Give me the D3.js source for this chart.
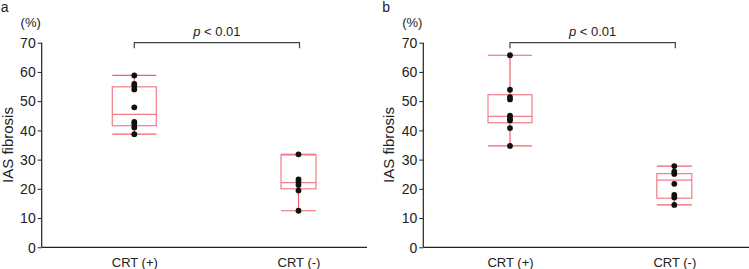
<!DOCTYPE html>
<html><head><meta charset="utf-8">
<script src="https://cdn.jsdelivr.net/npm/d3@7"></script>
<style>body{margin:0;background:#fff}svg{display:block;font-family:"Liberation Sans",Arial,sans-serif}</style>
</head><body><svg id="c" width="749" height="269"></svg>
<script>
// ---- data ----
const categories = ["CRT (+)", "CRT (-)"];
const yTicks = [0, 10, 20, 30, 40, 50, 60, 70];
const panelLabels = ["a", "b"];
const pText = "< 0.01";
// panel a points
const aPos = [58.8, 55.9, 55.2, 54.0, 47.9, 42.9, 42.2, 41.0, 38.7];
const aNeg = [31.8, 23.2, 22.3, 21.3, 19.4, 12.5];
// panel b points
const bPos = [65.7, 53.9, 51.4, 50.6, 45.0, 44.1, 43.4, 40.8, 34.7];
const bNeg = [27.8, 25.9, 25.1, 21.7, 17.9, 17.0, 14.5];
// box stats [min, q1, median, q3, max]
const aPosBox = [38.7, 41.6, 45.5, 54.9, 58.8];
const aNegBox = [12.5, 20.0, 22.1, 31.6, 31.8];
const bPosBox = [34.7, 42.6, 44.8, 52.2, 65.7];
const bNegBox = [14.5, 16.8, 23.0, 25.2, 27.8];

// ---- layout ----
const svg = d3.select("#c");
const y = d3.scaleLinear().domain([0, 70]).range([247.3, 42.7]);
const panels = [
  {label: panelLabels[0], ax: 41.7, end: 367, cats: [134.3, 298.5], pts: [aPos, aNeg], box: [aPosBox, aNegBox]},
  {label: panelLabels[1], ax: 423.3, end: 749, cats: [510, 674.3], pts: [bPos, bNeg], box: [bPosBox, bNegBox]}
];
const boxW = [44, 35];
const red = "#f0606f";
const boxCol = "#f27c89";

panels.forEach(p => {
  const g = svg.append("g");
  const x = d3.scalePoint().domain(categories).range(p.cats);
  // y axis
  const yAxis = d3.axisLeft(y).tickValues(yTicks).tickSize(4).tickPadding(2);
  const ya = g.append("g").attr("transform", `translate(${p.ax},0)`).call(yAxis);
  ya.select(".domain").attr("d", `M0,${y(70)}V${y(0)}`).attr("stroke", "#222").attr("stroke-width", 1.2);
  ya.selectAll(".tick line").attr("stroke", "#222");
  ya.selectAll(".tick text").attr("font-size", 14).attr("fill", "#222").attr("dy", "0.34em");
  // x axis
  const xAxis = d3.axisBottom(x).tickSize(0).tickPadding(8);
  const xa = g.append("g").attr("transform", `translate(0,${y(0)})`).call(xAxis);
  xa.select(".domain").attr("d", `M${p.ax},0H${p.end}`).attr("stroke", "#222").attr("stroke-width", 1.2);
  xa.selectAll(".tick text").attr("font-size", 13).attr("fill", "#222").attr("dy", "0.9em");
  // panel label
  g.append("text").attr("x", p.ax - 41).attr("y", 12).attr("font-size", 14).attr("fill", "#222").text(p.label);
  g.append("text").attr("x", p.ax - 11).attr("y", 27).attr("text-anchor", "middle").attr("font-size", 13).attr("fill", "#222").text("(%)");
  g.append("text").attr("transform", `translate(${p.ax - 29},${y(35)}) rotate(-90)`).attr("text-anchor", "middle").attr("font-size", 15).attr("fill", "#222").text("IAS fibrosis");
  // boxes
  categories.forEach((c, i) => {
    const cx = x(c), s = p.box[i], w = boxW[i];
    const bg = g.append("g");
    bg.append("line").attr("x1", cx).attr("x2", cx).attr("y1", y(s[0])).attr("y2", y(s[1])).attr("stroke", red).attr("stroke-width", 1.2);
    bg.append("line").attr("x1", cx).attr("x2", cx).attr("y1", y(s[3])).attr("y2", y(s[4])).attr("stroke", red).attr("stroke-width", 1.2);
    [s[0], s[4]].forEach(v => bg.append("line").attr("x1", cx - w / 2).attr("x2", cx + w / 2).attr("y1", y(v)).attr("y2", y(v)).attr("stroke", red).attr("stroke-width", 1.2));
    bg.append("rect").attr("x", cx - w / 2).attr("width", w).attr("y", y(s[3])).attr("height", y(s[1]) - y(s[3])).attr("fill", "none").attr("stroke", boxCol).attr("stroke-width", 1.2);
    bg.append("line").attr("x1", cx - w / 2).attr("x2", cx + w / 2).attr("y1", y(s[2])).attr("y2", y(s[2])).attr("stroke", boxCol).attr("stroke-width", 1.2);
    bg.selectAll("circle").data(p.pts[i]).join("circle").attr("cx", cx).attr("cy", d => y(d)).attr("r", 2.9).attr("fill", "#111");
  });
  // bracket
  const x1 = x(categories[0]), x2 = x(categories[1]) + 1;
  g.append("path").attr("d", `M${x1},${y(68.1)}V${y(70)}H${x2}V${y(68.1)}`).attr("fill", "none").attr("stroke", "#444").attr("stroke-width", 1.2);
  const t = g.append("text").attr("x", (x1 + x2) / 2).attr("y", 36).attr("text-anchor", "middle").attr("font-size", 13).attr("fill", "#222");
  t.append("tspan").attr("font-style", "italic").text("p");
  t.append("tspan").text(" " + pText);
});
</script></body></html>
